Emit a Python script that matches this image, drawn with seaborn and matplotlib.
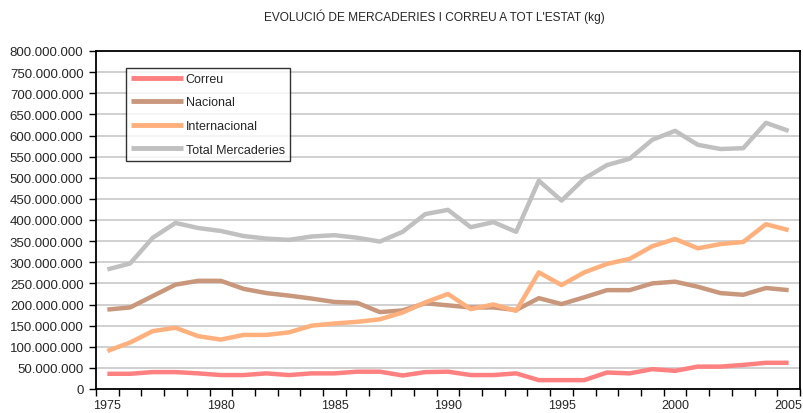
import matplotlib
matplotlib.use("Agg")
import matplotlib.pyplot as plt
import matplotlib.ticker as mticker
from matplotlib import font_manager
import seaborn as sns
import pandas as pd

years = list(range(1975, 2006))
correu = [36, 36, 40, 40, 37, 33, 33, 37, 33, 37, 37, 41, 41, 32, 40, 41, 33, 33, 37, 21,
          21, 21, 39, 37, 47, 43, 53, 53, 57, 62, 62]
nacional = [188, 193, 220, 247, 256, 256, 237, 227, 221, 214, 206, 204, 182, 186, 203, 198,
            193, 193, 187, 215, 201, 217, 234, 234, 250, 254, 242, 227, 223, 239, 234]
internacional = [90, 110, 137, 145, 125, 117, 128, 128, 134, 150, 155, 159, 165, 181, 205, 225,
                 189, 200, 185, 276, 246, 276, 296, 308, 338, 355, 333, 343, 348, 390, 376]
total = [283, 297, 358, 393, 381, 374, 362, 356, 353, 361, 364, 358, 349, 372, 414, 424,
         383, 395, 372, 493, 446, 498, 530, 545, 590, 611, 578, 568, 570, 630, 611]
series_names = ["Correu", "Nacional", "Internacional", "Total Mercaderies"]
colors = ["#FF8080", "#C9977C", "#FFB07C", "#C0C0C0"]
title = "EVOLUCIÓ DE MERCADERIES I CORREU A TOT L'ESTAT (kg)"

rows = []
for name, vals in zip(series_names, [correu, nacional, internacional, total]):
    for y, v in zip(years, vals):
        rows.append({"Any": y, "kg": v * 1_000_000, "Serie": name})
df = pd.DataFrame(rows)

sns.set_style("white")
installed = {f.name for f in font_manager.fontManager.ttflist}
narrow = "Liberation Sans Narrow" if "Liberation Sans Narrow" in installed else None
plt.rcParams["font.family"] = ["Liberation Sans", "DejaVu Sans"]

fig = plt.figure(figsize=(8.04, 4.14), dpi=100)
ax = fig.add_axes([96 / 804, 24 / 414, 704 / 804, 338 / 414])

sns.lineplot(data=df, x="Any", y="kg", hue="Serie", hue_order=series_names,
             palette=dict(zip(series_names, colors)), linewidth=3.2, ax=ax,
             legend=True, solid_capstyle="butt")

ax.set_xlim(1974.5, 2005.5)
ax.set_ylim(0, 800_000_000)
ax.yaxis.set_major_locator(mticker.MultipleLocator(50_000_000))
ax.yaxis.set_major_formatter(mticker.FuncFormatter(lambda v, p: f"{int(v):,}".replace(",", ".")))
ax.xaxis.set_major_locator(mticker.FixedLocator(list(range(1975, 2006, 5))))
ax.xaxis.set_minor_locator(mticker.FixedLocator([y + 0.5 for y in range(1974, 2006)]))
ax.grid(axis="y", color="#C8C8C8", linewidth=1.2)
ax.set_axisbelow(True)
ax.set_xlabel("")
ax.set_ylabel("")
for s in ax.spines.values():
    s.set_visible(True)
    s.set_color("black")
    s.set_linewidth(1.3)

ax.tick_params(axis="y", which="major", direction="out", length=5, width=1, color="black",
               labelsize=9.5, pad=4, left=True)
ax.tick_params(axis="x", which="major", length=0, labelsize=9, pad=7)
ax.tick_params(axis="x", which="minor", direction="out", length=5, width=1, color="black", bottom=True)

tfam = [narrow, "Liberation Sans"] if narrow else ["Liberation Sans"]
fig.text(434 / 804, 1 - 17 / 414, title, ha="center", va="center",
         fontsize=10.5 if narrow else 8.6, family=tfam)

handles, labels = ax.get_legend_handles_labels()
leg = ax.legend(handles, labels, loc="upper left",
                bbox_to_anchor=((125.7 - 96) / 704, (390 - 69) / 338),
                borderaxespad=0, frameon=True, fancybox=False, fontsize=9,
                handlelength=4.2, handletextpad=0.2, labelspacing=0.92,
                borderpad=0.4, title=None)
leg.get_frame().set_edgecolor("black")
leg.get_frame().set_linewidth(1.0)
for lh in leg.get_lines():
    lh.set_linewidth(3.5)

fig.savefig("out.png", dpi=100)
